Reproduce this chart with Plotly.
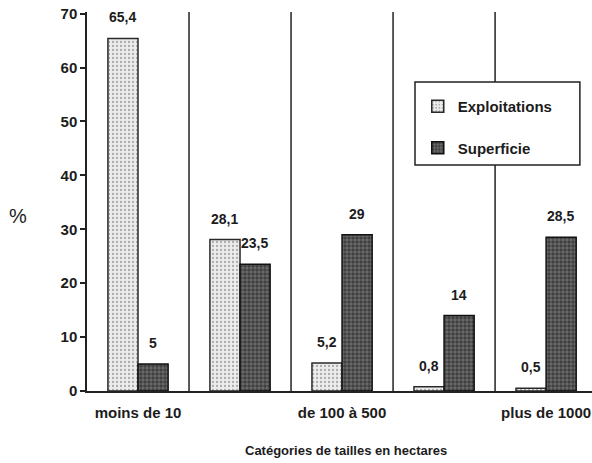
import plotly.graph_objects as go

# Farm size classes (hectares); only every other class is labelled on the axis
categories = ["moins de 10", "de 10 à 100", "de 100 à 500", "de 500 à 1000", "plus de 1000"]
tick_labels = ["moins de 10", "", "de 100 à 500", "", "plus de 1000"]
exploitations = [65.4, 28.1, 5.2, 0.8, 0.5]
superficie = [5.0, 23.5, 29.0, 14.0, 28.5]

FONT = "Liberation Sans, Arial, sans-serif"
INK = "#1c1c1c"
LINE = "#222222"
xpos = list(range(len(categories)))


def fmt(v):
    return f"{v:g}".replace(".", ",")


fig = go.Figure()
fig.add_trace(go.Bar(
    x=xpos, y=exploitations, name="Exploitations", legendgroup="a",
    marker=dict(color="#e4e4e4",
                line=dict(color="#2a2a2a", width=1.5),
                pattern=dict(shape=".", fgcolor="#6a6a6a", bgcolor="#ececec",
                             size=4, solidity=0.25)),
))
fig.add_trace(go.Bar(
    x=xpos, y=superficie, name="Superficie", legendgroup="b",
    marker=dict(color="#404040",
                line=dict(color="#111111", width=1.5),
                pattern=dict(shape=".", fgcolor="#131313", bgcolor="#6c6c6c",
                             size=4, solidity=0.6)),
))

# value labels above each bar
annotations = []
for i in xpos:
    for off, vals in ((-0.15, exploitations), (0.145, superficie)):
        annotations.append(dict(
            x=i + off, y=vals[i], xref="x", yref="y", text=fmt(vals[i]),
            showarrow=False, xanchor="center", yanchor="bottom", yshift=11,
            font=dict(family=FONT, size=14, color=INK, weight="bold"),
        ))

annotations.append(dict(
    x=-0.137, y=(391 - 216) / 379, xref="paper", yref="paper", text="%",
    showarrow=False, xanchor="center", yanchor="middle",
    font=dict(family=FONT, size=20, color=INK),
))
annotations.append(dict(
    x=0.513, y=-0.158, xref="paper", yref="paper",
    text="Catégories de tailles en hectares", showarrow=False,
    xanchor="center", yanchor="middle",
    font=dict(family=FONT, size=13, color=INK, weight="bold"),
))

# category separators running the full height, with a short tick below the axis
shapes = []
for b in range(len(categories) - 1):
    shapes.append(dict(type="line", xref="x", yref="y", x0=b + 0.5, x1=b + 0.5,
                       y0=-0.9, y1=70.3, line=dict(color=LINE, width=1.5)))
# legend frame
shapes.append(dict(type="rect", xref="paper", yref="paper",
                   x0=0.6495, x1=0.976, y0=0.596, y1=0.815,
                   fillcolor="white", line=dict(color=LINE, width=1.5)))

fig.update_layout(
    width=592, height=463,
    margin=dict(l=87, r=0, t=12, b=72),
    paper_bgcolor="white", plot_bgcolor="white",
    barmode="group", bargap=0.41, bargroupgap=0,
    font=dict(family=FONT, size=12, color=INK),
    showlegend=True,
    legend=dict(x=0.655, y=0.794, xanchor="left", yanchor="top",
                bgcolor="rgba(0,0,0,0)", borderwidth=0,
                traceorder="grouped", tracegroupgap=19,
                font=dict(family=FONT, size=15, color=INK, weight="bold")),
    annotations=annotations,
    shapes=shapes,
)
fig.update_xaxes(
    range=[-0.5, 4.45], tickvals=xpos, ticktext=tick_labels,
    showgrid=False, zeroline=False, showline=True, linecolor=LINE, linewidth=1.5,
    ticks="outside", ticklen=7, tickcolor="rgba(0,0,0,0)",
    tickfont=dict(family=FONT, size=15, color=INK, weight="bold"),
)
fig.update_yaxes(
    range=[0, 70.3], tickvals=[0, 10, 20, 30, 40, 50, 60, 70],
    showgrid=False, zeroline=False, showline=True, linecolor=LINE, linewidth=1.5,
    ticks="outside", ticklen=5, tickwidth=1.5, tickcolor=LINE,
    tickfont=dict(family=FONT, size=15, color=INK, weight="bold"),
)

fig.write_html("out.html")
